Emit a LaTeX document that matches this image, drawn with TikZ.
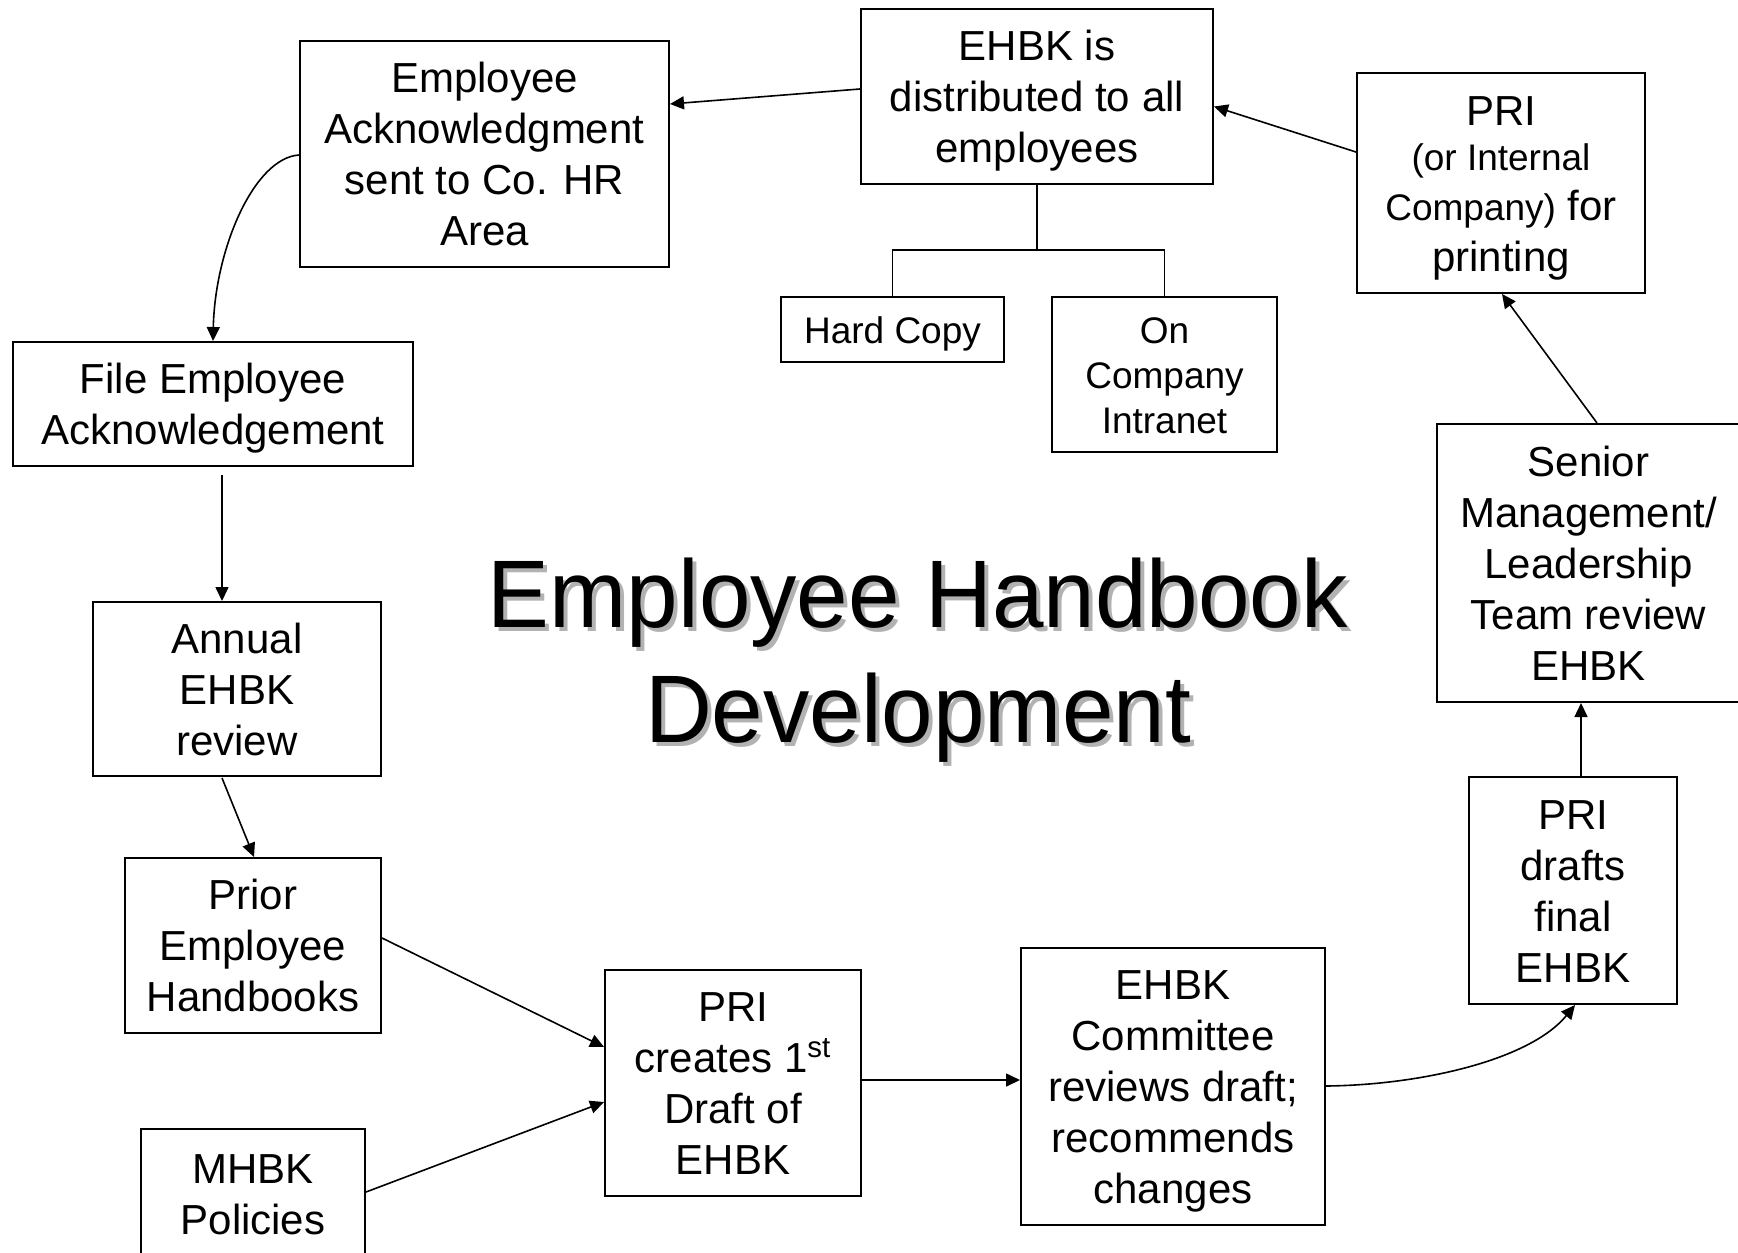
\documentclass[tikz,border=0pt]{standalone}
\usepackage{fontspec}
\setmainfont{Liberation Sans}
\newfontfamily\titlefont[FakeStretch=0.965]{Liberation Sans}
\newcommand\smallfs{\fontsize{18.5pt}{25.5pt}\selectfont}
\newcommand\bst{\rule[-5.1pt]{0pt}{25.5pt}}
\newcommand\sst{\rule[-4.5pt]{0pt}{22.5pt}}
\newcommand\pst{\rule[-4.44pt]{0pt}{22.2pt}}
\usetikzlibrary{arrows.meta,calc}
\begin{document}
\begin{tikzpicture}[x=0.5pt,y=-0.5pt,
  box/.style={draw, line width=1pt, inner sep=0pt, align=center, font=\fontsize{21pt}{25.5pt}\selectfont},
  sbox/.style={box, font=\fontsize{18.5pt}{22.5pt}\selectfont},
  pbox/.style={box, font={\fontsize{21pt}{0pt}\selectfont\lineskip=0pt\lineskiplimit=0pt}},
  conn/.style={line width=0.8pt},
  arr/.style={conn, -{Triangle[length=7pt,width=6.5pt]}},
  ttl/.style={align=center, inner sep=0pt, font=\titlefont\fontsize{48pt}{57.5pt}\selectfont}]
\clip (0,0) rectangle (1738,1252);
\fill[white] (0,0) rectangle (1738,1252);

% title
\node[ttl, text={rgb,255:red,178;green,178;blue,178}] (titleshadow) at (922,664) {Employee Handbook\\Development};
\node[ttl] (title) at (918,660) {Employee Handbook\\Development};

% boxes
\node[box, minimum width=176pt, minimum height=87.5pt] (dist) at (1037,96.5) {\bst EHBK is\\distributed to all\\employees\bst};
\node[box, minimum width=184.5pt, minimum height=113pt] (ack) at (484.5,154) {\bst Employee\\Acknowledgment\\sent to Co. HR\\Area\bst};
\node[pbox, minimum width=144pt, minimum height=110pt] (print) at (1501,183) {PRI\bst\\{\smallfs(or Internal}\pst\\{\smallfs Company)} for\bst\\printing\bst};
\node[sbox, minimum width=111.5pt, minimum height=32.5pt] (hard) at (892.5,329.5) {\sst Hard Copy};
\node[sbox, minimum width=112.5pt, minimum height=77.5pt] (intra) at (1164.5,374.5) {\sst On\\Company\\Intranet\sst};
\node[box, minimum width=200pt, minimum height=62pt] (file) at (213,404) {\bst File Employee\\Acknowledgement\bst};
\node[box, minimum width=144pt, minimum height=87pt] (annual) at (237,689) {\bst Annual\\EHBK\\review\bst};
\node[box, minimum width=128pt, minimum height=87.5pt] (prior) at (253,945.5) {\bst Prior\\Employee\\Handbooks\bst};
\node[box, minimum width=112pt, minimum height=64.5pt] (mhbk) at (253,1193.5) {\bst MHBK\\Policies\bst};
\node[box, minimum width=128pt, minimum height=113pt] (draft1) at (733,1083) {\bst PRI\\creates 1\textsuperscript{st}\\Draft of\\EHBK\bst};
\node[box, minimum width=152pt, minimum height=138.5pt] (comm) at (1173,1086.5) {\bst EHBK\\Committee\\reviews draft;\\recommends\\changes\bst};
\node[box, minimum width=104pt, minimum height=113.5pt] (final) at (1573,890.5) {\bst PRI\\drafts\\final\\EHBK\bst};
\node[box, minimum width=151.5pt, minimum height=139pt] (senior) at (1588.5,563) {\bst Senior\\Management/\\Leadership\\Team review\\EHBK\bst};

% connectors
\draw[arr] ($(print.west)+(0,-31)$) -- ($(dist.east)+(0,10)$);
\draw[arr] ($(dist.west)+(0,-7.5)$) -- ($(ack.east)+(0,-50)$);
\draw[arr] ($(ack.west)+(0,1)$) .. controls +(-45,3) and +(2,-92) .. (file.north);
\draw[arr] ($(file.south)+(9,8)$) -- ($(annual.north)+(-15,0)$);
\draw[arr] ($(annual.south)+(-15,1)$) -- ($(prior.north)+(1,0)$);
\draw[arr] ($(prior.east)+(0,-7.5)$) -- ($(draft1.west)+(0,-36)$);
\draw[arr] ($(mhbk.east)+(0,-1.5)$) -- ($(draft1.west)+(0,19)$);
\draw[arr] ($(draft1.east)+(0,-3)$) -- ($(comm.west)+(0,-6.5)$);
\draw[arr] ($(comm.east)+(0,-0.5)$) .. controls +(95,-1) and +(-45,55) .. ($(final.south)+(2,0)$);
\draw[arr] ($(final.north)+(8,0)$) -- ($(senior.south)+(-7.5,0)$);
\draw[arr] ($(senior.north)+(8.5,0)$) -- ($(print.south)+(1,0)$);
\coordinate (fork) at ($(dist.south)+(0,65)$);
\draw[conn] (dist.south) -- (fork);
\draw[conn] (hard.north) |- (fork) -| (intra.north);
\end{tikzpicture}
\end{document}
